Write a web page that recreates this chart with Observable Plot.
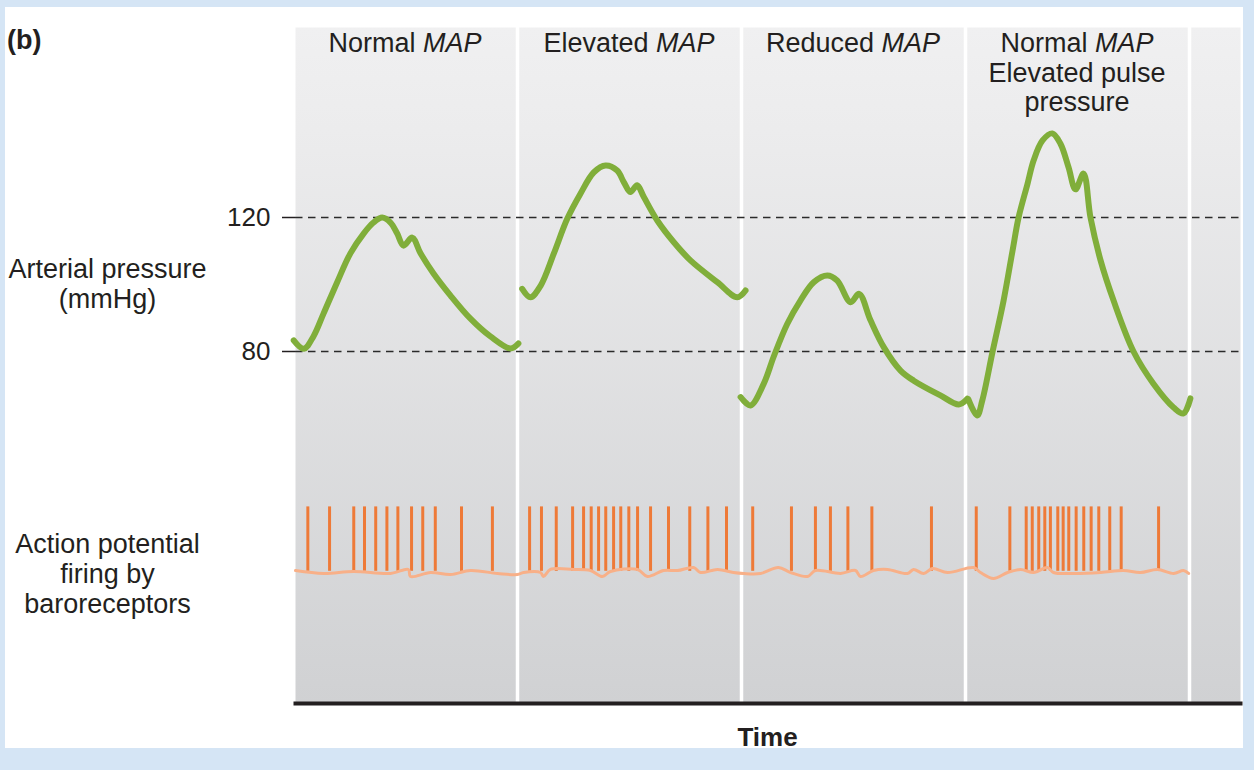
<!DOCTYPE html>
<html>
<head>
<meta charset="utf-8">
<script src="https://cdn.jsdelivr.net/npm/d3@7"></script>
<script src="https://cdn.jsdelivr.net/npm/@observablehq/plot@0.6"></script>
<style>
  html, body { margin: 0; padding: 0; }
  body { width: 1254px; height: 770px; background: #d5e5f5; overflow: hidden;
         font-family: "Liberation Sans", Arial, Helvetica, sans-serif; color: #231f20; position: relative; }
  #card { position: absolute; left: 5px; top: 7px; width: 1238px; height: 741px; background: #ffffff; }
  #wrap { position: absolute; left: 0; top: 0; width: 1254px; height: 770px; }
  #wrap svg { position: absolute; left: 0; top: 0; }
  .lbl { position: absolute; font-size: 27px; line-height: 30px; text-align: center; white-space: nowrap; transform: translateX(-50%); }
  .hdr { position: absolute; font-size: 27px; line-height: 29.5px; text-align: center; white-space: nowrap; transform: translateX(-50%); }
  .bold { font-weight: bold; font-size: 26px; line-height: 26px; position: absolute; white-space: nowrap; }
</style>
</head>
<body>
<div id="card"></div>
<div id="wrap"></div>
<script>
// ---------------- data ----------------
const cycleLabels = ["Normal MAP", "Elevated MAP", "Reduced MAP", "Normal MAP\nElevated pulse\npressure"];
const pressureTicks = [80, 120];            // mmHg
const cycleBoundaries = [1, 2, 3, 4];       // time, in cardiac cycles

// [time (cycles), arterial pressure (mmHg)]
const pressureNormal = [[0.001,83.3],[0.046,80.8],[0.089,84.5],[0.134,91.3],[0.195,100.7],[0.254,109.3],[0.313,115.2],[0.357,118.5],[0.396,120],[0.433,118.5],[0.463,115.2],[0.491,111.6],[0.530,114],[0.567,109.3],[0.625,103.3],[0.701,96.7],[0.790,89.8],[0.879,84.5],[0.969,80.9],[1.004,82.4]];
const pressureElevated = [[1.021,98.7],[1.058,96.2],[1.103,99.6],[1.162,109.2],[1.222,119.6],[1.281,127.1],[1.341,133.5],[1.393,135.5],[1.445,134],[1.475,130.5],[1.504,127.6],[1.534,129.6],[1.564,126.1],[1.624,119.1],[1.698,112.6],[1.772,107.2],[1.892,100.7],[1.981,96.2],[2.018,98.2]];
const pressureReduced = [[1.996,66.4],[2.040,63.9],[2.100,70.5],[2.144,78.5],[2.204,88.2],[2.263,95.2],[2.323,100.7],[2.383,102.7],[2.427,101.2],[2.487,94.7],[2.525,97.2],[2.576,89.3],[2.635,81.3],[2.710,74.3],[2.769,71.3],[2.888,66.9],[2.970,64.2],[3.008,65.9]];
const pressurePulse = [[3.013,65.7],[3.052,60.9],[3.075,65.4],[3.121,80],[3.170,95.2],[3.210,110.1],[3.237,120],[3.277,130.1],[3.304,137],[3.344,143],[3.388,145.1],[3.424,142],[3.460,135],[3.491,128.4],[3.527,133.1],[3.558,120],[3.603,107.2],[3.661,95.2],[3.750,80],[3.839,70.4],[3.929,63.3],[3.973,61.5],[4.004,66]];

// action potential times (cycles)
const spikesNormal = [0.064,0.161,0.269,0.317,0.367,0.417,0.466,0.527,0.577,0.633,0.750,0.888];
const spikesElevated = [1.054,1.107,1.173,1.246,1.295,1.329,1.362,1.394,1.429,1.461,1.497,1.536,1.594,1.674,1.769,1.850,1.933];
const spikesReduced = [2.050,2.223,2.330,2.397,2.475,2.582,2.848];
const spikesPulse = [3.048,3.198,3.271,3.298,3.327,3.354,3.379,3.412,3.436,3.461,3.494,3.528,3.561,3.595,3.644,3.695,3.862];
const restingPotential = -64;   // mV
const spikePeak = 28;           // mV

// [time (cycles), membrane potential (mV)] – baseline trace
const baselineTrace = [[0.009,-62.9],[0.134,-67.1],[0.268,-64.3],[0.433,-67.1],[0.513,-61.4],[0.522,-71.4],[0.612,-65.7],[0.701,-68.6],[0.790,-62.9],[0.911,-67.1],[1.000,-68.6],[1.027,-65.7],[1.103,-65.7],[1.116,-71.4],[1.147,-61.4],[1.250,-61.4],[1.326,-62.9],[1.379,-71.4],[1.415,-64.3],[1.536,-61.4],[1.580,-71.4],[1.652,-62.9],[1.714,-62.9],[1.786,-58.6],[1.817,-65.7],[1.893,-61.4],[1.964,-65.7],[2.009,-67.1],[2.085,-67.1],[2.165,-58.6],[2.219,-65.7],[2.295,-71.4],[2.330,-62.9],[2.442,-67.1],[2.509,-62.9],[2.531,-71.4],[2.589,-62.9],[2.652,-61.4],[2.741,-67.1],[2.768,-61.4],[2.813,-67.1],[2.853,-60],[2.920,-65.7],[3.036,-58.6],[3.067,-65.7],[3.125,-74.3],[3.188,-65.7],[3.246,-61.4],[3.304,-65.7],[3.366,-58.6],[3.393,-65.7],[3.482,-67.1],[3.603,-65.7],[3.705,-62.9],[3.781,-65.7],[3.857,-61.4],[3.929,-67.1],[3.973,-62.9],[3.996,-67.1]];

// ---------------- build ----------------
const pressureRows = [pressureNormal, pressureElevated, pressureReduced, pressurePulse]
  .flatMap((c, i) => c.map(([t, p]) => ({t, p, cycle: i})));
const spikeRows = [spikesNormal, spikesElevated, spikesReduced, spikesPulse]
  .flatMap((s, i) => s.map(t => ({t, cycle: i})));
const baselineRows = baselineTrace.map(([t, v]) => ({t, v}));

const W = 1254, H = 770;
const layout = {width: W, height: H, marginLeft: 295, marginRight: 14, marginTop: 27, marginBottom: 67};
const xScale = {domain: [0, 4], range: [293, 1189], axis: null};
const font = "'Liberation Sans', Arial, Helvetica, sans-serif";

const main = Plot.plot({
  ...layout,
  x: xScale,
  y: {domain: [80, 120], range: [351, 217], axis: null},
  style: {background: "transparent", fontFamily: font, color: "#231f20", overflow: "visible"},
  marks: [
    Plot.frame({fill: "url(#panelGrad)", stroke: "none"}),
    Plot.ruleX(cycleBoundaries, {stroke: "#ffffff", strokeWidth: 3.5}),
    Plot.ruleY(pressureTicks, {stroke: "#2a2a2a", strokeWidth: 1.6, strokeDasharray: "7.5,5.5"}),
    Plot.axisY(pressureTicks, {tickSize: 13, tickPadding: 12, fontSize: 26, label: null, strokeWidth: 1.5}),
    Plot.line(pressureRows, {x: "t", y: "p", z: "cycle", stroke: "#80ae3a", strokeWidth: 6,
      curve: "catmull-rom", strokeLinecap: "round", strokeLinejoin: "round"}),
    Plot.frame({anchor: "bottom", stroke: "#231f20", strokeWidth: 4})
  ]
});

const defs = document.createElementNS("http://www.w3.org/2000/svg", "defs");
defs.innerHTML = '<linearGradient id="panelGrad" x1="0" y1="0" x2="0" y2="1">' +
  '<stop offset="0" stop-color="#f0f0f1"/><stop offset="0.15" stop-color="#ececed"/>' +
  '<stop offset="1" stop-color="#d0d1d3"/></linearGradient>';
main.insertBefore(defs, main.firstChild);

const firing = Plot.plot({
  ...layout,
  x: xScale,
  y: {domain: [-70, 30], range: [575, 505], axis: null},
  style: {background: "transparent", overflow: "visible"},
  marks: [
    Plot.ruleX(spikeRows, {x: "t", y1: restingPotential, y2: spikePeak, stroke: "#ee7a38", strokeWidth: 3}),
    Plot.line(baselineRows, {x: "t", y: "v", stroke: "#f8b088", strokeWidth: 3,
      curve: "catmull-rom", strokeLinejoin: "round", strokeLinecap: "round"})
  ]
});

const wrap = document.getElementById("wrap");
wrap.appendChild(main);
wrap.appendChild(firing);

// ---------------- text ----------------
const sx = main.scale("x");
function addDiv(cls, html, left, top) {
  const d = document.createElement("div");
  d.className = cls;
  d.innerHTML = html;
  d.style.left = left + "px";
  d.style.top = top + "px";
  document.body.appendChild(d);
  return d;
}
cycleLabels.forEach((lab, i) => {
  const html = lab.split("\n").map(s => s.replace("MAP", "<i>MAP</i>")).join("<br>");
  addDiv("hdr", html, sx.apply(i + 0.5), 29);
});
addDiv("lbl", "Arterial pressure<br>(mmHg)", 107.5, 254);
addDiv("lbl", "Action potential<br>firing by<br>baroreceptors", 107.5, 529);
const b = addDiv("bold", "(b)", 7, 27);
b.style.fontSize = "27px";
b.style.lineHeight = "27px";
const frameCenter = (layout.marginLeft + (W - layout.marginRight)) / 2;
const tl = addDiv("bold", "Time", frameCenter, 724);
tl.style.transform = "translateX(-50%)";
</script>
</body>
</html>
